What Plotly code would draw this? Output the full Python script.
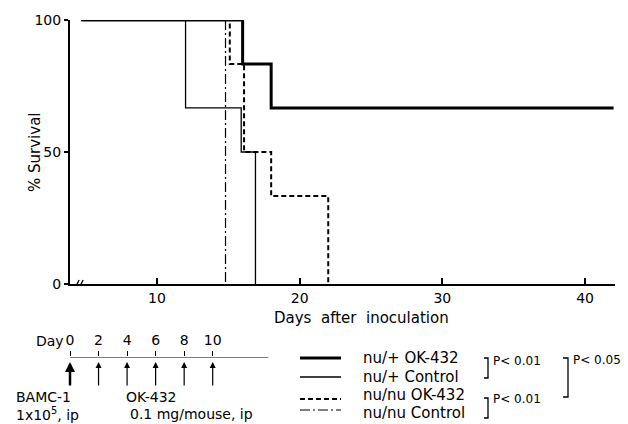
import plotly.graph_objects as go

# ---------------- data ----------------
group_names = ["nu/+ OK-432", "nu/+ Control", "nu/nu OK-432", "nu/nu Control"]
days_het_ok = [4.7, 16, 18, 42]
surv_het_ok = [100, 83.3, 66.7, 66.7]
days_het_ctrl = [4.7, 12, 15.9, 16.9]
surv_het_ctrl = [100, 66.7, 50, 0]
days_nude_ok = [4.7, 15.1, 16.1, 18, 22]
surv_nude_ok = [100, 83.3, 50, 33.3, 0]
days_nude_ctrl = [4.7, 14.8]
surv_nude_ctrl = [100, 0]

x_ticks = [10, 20, 30, 40]
y_ticks = [0, 50, 100]
schedule_days = [0, 2, 4, 6, 8, 10]
p_labels = ["P< 0.01", "P< 0.01", "P< 0.05"]

# ---------------- styles ----------------
W, H = 628, 424
ML, MR, MT, MB = 70, 13, 20, 20
PW, PH = W - ML - MR, H - MT - MB
FONT = "DejaVu Sans"


def px(x):
    return (x - ML) / PW


def py(y):
    return (H - MB - y) / PH


widths = [3, 1.3, 2, 1.2]
dashes = ["solid", "solid", "5px,3px", "10px,3px,2px,3px"]

series = [
    (days_het_ok, surv_het_ok),
    (days_het_ctrl, surv_het_ctrl),
    (days_nude_ok, surv_nude_ok),
    (days_nude_ctrl, surv_nude_ctrl),
]

fig = go.Figure()
for i in [3, 2, 1, 0]:
    xs, ys = series[i]
    fig.add_trace(go.Scatter(
        x=xs, y=ys, mode="lines", line_shape="hv", name=group_names[i],
        line=dict(color="black", width=widths[i], dash=dashes[i]),
        showlegend=False, xaxis="x", yaxis="y",
    ))

# invisible trace to create the schedule axis
fig.add_trace(go.Scatter(x=[0], y=[0], mode="markers", marker=dict(opacity=0),
                         xaxis="x2", yaxis="y2", showlegend=False, hoverinfo="skip"))

fig.update_layout(
    width=W, height=H,
    margin=dict(l=ML, r=MR, t=MT, b=MB),
    paper_bgcolor="white", plot_bgcolor="white",
    font=dict(family=FONT, size=14, color="black"),
    showlegend=False,
    xaxis=dict(
        range=[3.9, 42.1], anchor="y", domain=[0, 1],
        tickvals=x_ticks, ticks="inside", ticklen=6, tickwidth=1.5, tickcolor="black",
        showline=True, linecolor="black", linewidth=2,
        showgrid=False, zeroline=False, tickfont=dict(size=14),
    ),
    yaxis=dict(
        range=[0, 100], domain=[py(284), 1], anchor="x",
        tickvals=y_ticks, ticks="outside", ticklen=4, tickwidth=1.5, tickcolor="black",
        showline=True, linecolor="black", linewidth=2,
        showgrid=False, zeroline=False, tickfont=dict(size=14),
    ),
    xaxis2=dict(
        range=[0, PW / 14.27], anchor="y2", domain=[0, 1], side="top",
        tickvals=schedule_days, ticks="outside", ticklen=5, tickwidth=1.2, tickcolor="black",
        showline=False, showgrid=False, zeroline=False, tickfont=dict(size=14),
    ),
    yaxis2=dict(range=[0, 1], domain=[py(357) - 0.02, py(357)], visible=False, anchor="x2"),
)

shapes = []
# timeline line
shapes.append(dict(type="line", xref="x2", yref="y2", x0=0, x1=13.9, y0=1, y1=1,
                   line=dict(color="black", width=1.2)))
# axis break marks
for off in [0, 4]:
    shapes.append(dict(type="line", xref="x", xsizemode="pixel", xanchor=4.4,
                       x0=off - 2, x1=off + 2, yref="y", ysizemode="pixel", yanchor=0,
                       y0=-4, y1=4, line=dict(color="black", width=1.3)))

# legend line samples
sample_y = [358, 377, 399, 410]
text_y = [358, 377, 395, 413]
for i in range(4):
    shapes.append(dict(type="line", xref="paper", yref="paper",
                       x0=px(300), x1=px(341), y0=py(sample_y[i]), y1=py(sample_y[i]),
                       line=dict(color="black", width=widths[i], dash=dashes[i])))

# significance brackets
def bracket(x, y0, y1, arm):
    return dict(type="path", xref="paper", yref="paper",
                path=f"M {px(x - arm)} {py(y0)} L {px(x)} {py(y0)} L {px(x)} {py(y1)} L {px(x - arm)} {py(y1)}",
                line=dict(color="black", width=1.3))

shapes.append(bracket(488, 358, 378, 4))
shapes.append(bracket(488, 398, 418, 4))
shapes.append(bracket(568, 358, 397, 5))
fig.update_layout(shapes=shapes)

ann = []
# axis titles
ann.append(dict(text="Days  after  inoculation", x=px(361), y=py(318), xref="paper", yref="paper",
                showarrow=False, font=dict(size=15), xanchor="center", yanchor="middle"))
ann.append(dict(text="% Survival", x=px(35), y=py(152), xref="paper", yref="paper",
                showarrow=False, font=dict(size=15), textangle=-90, xanchor="center", yanchor="middle"))
# schedule
ann.append(dict(text="Day", x=0, xref="x2", xshift=-4, y=py(341), yref="paper",
                showarrow=False, xanchor="right", yanchor="middle", font=dict(size=14)))
for d in schedule_days:
    ann.append(dict(text="", x=d, xref="x2", y=py(362), yref="paper", showarrow=True,
                    ax=0, ay=25, arrowhead=2, arrowsize=1 if d else 0.8,
                    arrowwidth=2.5 if d == 0 else 1.2, arrowcolor="black"))
ann.append(dict(text="BAMC-1", x=px(43), y=py(397), xref="paper", yref="paper",
                showarrow=False, xanchor="center", yanchor="middle", font=dict(size=14)))
ann.append(dict(text="1x10<sup>5</sup>, ip", x=px(14), y=py(414), xref="paper", yref="paper",
                showarrow=False, xanchor="left", yanchor="middle", font=dict(size=14)))
ann.append(dict(text="OK-432", x=px(124), y=py(397), xref="paper", yref="paper",
                showarrow=False, xanchor="left", yanchor="middle", font=dict(size=14)))
ann.append(dict(text="0.1 mg/mouse, ip", x=px(128), y=py(414), xref="paper", yref="paper",
                showarrow=False, xanchor="left", yanchor="middle", font=dict(size=14)))
# legend text
for i in range(4):
    ann.append(dict(text=group_names[i], x=px(361), y=py(text_y[i]),
                    xref="paper", yref="paper", showarrow=False, xanchor="left",
                    yanchor="middle", font=dict(size=15)))
# p-values
p_pos = [(491, 361), (491, 399), (571, 360)]
for lab, (x, y) in zip(p_labels, p_pos):
    ann.append(dict(text=lab, x=px(x), y=py(y), xref="paper", yref="paper", showarrow=False,
                    xanchor="left", yanchor="middle", font=dict(size=12)))
fig.update_layout(annotations=ann)

fig.write_html("out.html", config={"displayModeBar": False},
               post_script="document.body.style.margin='0';")
